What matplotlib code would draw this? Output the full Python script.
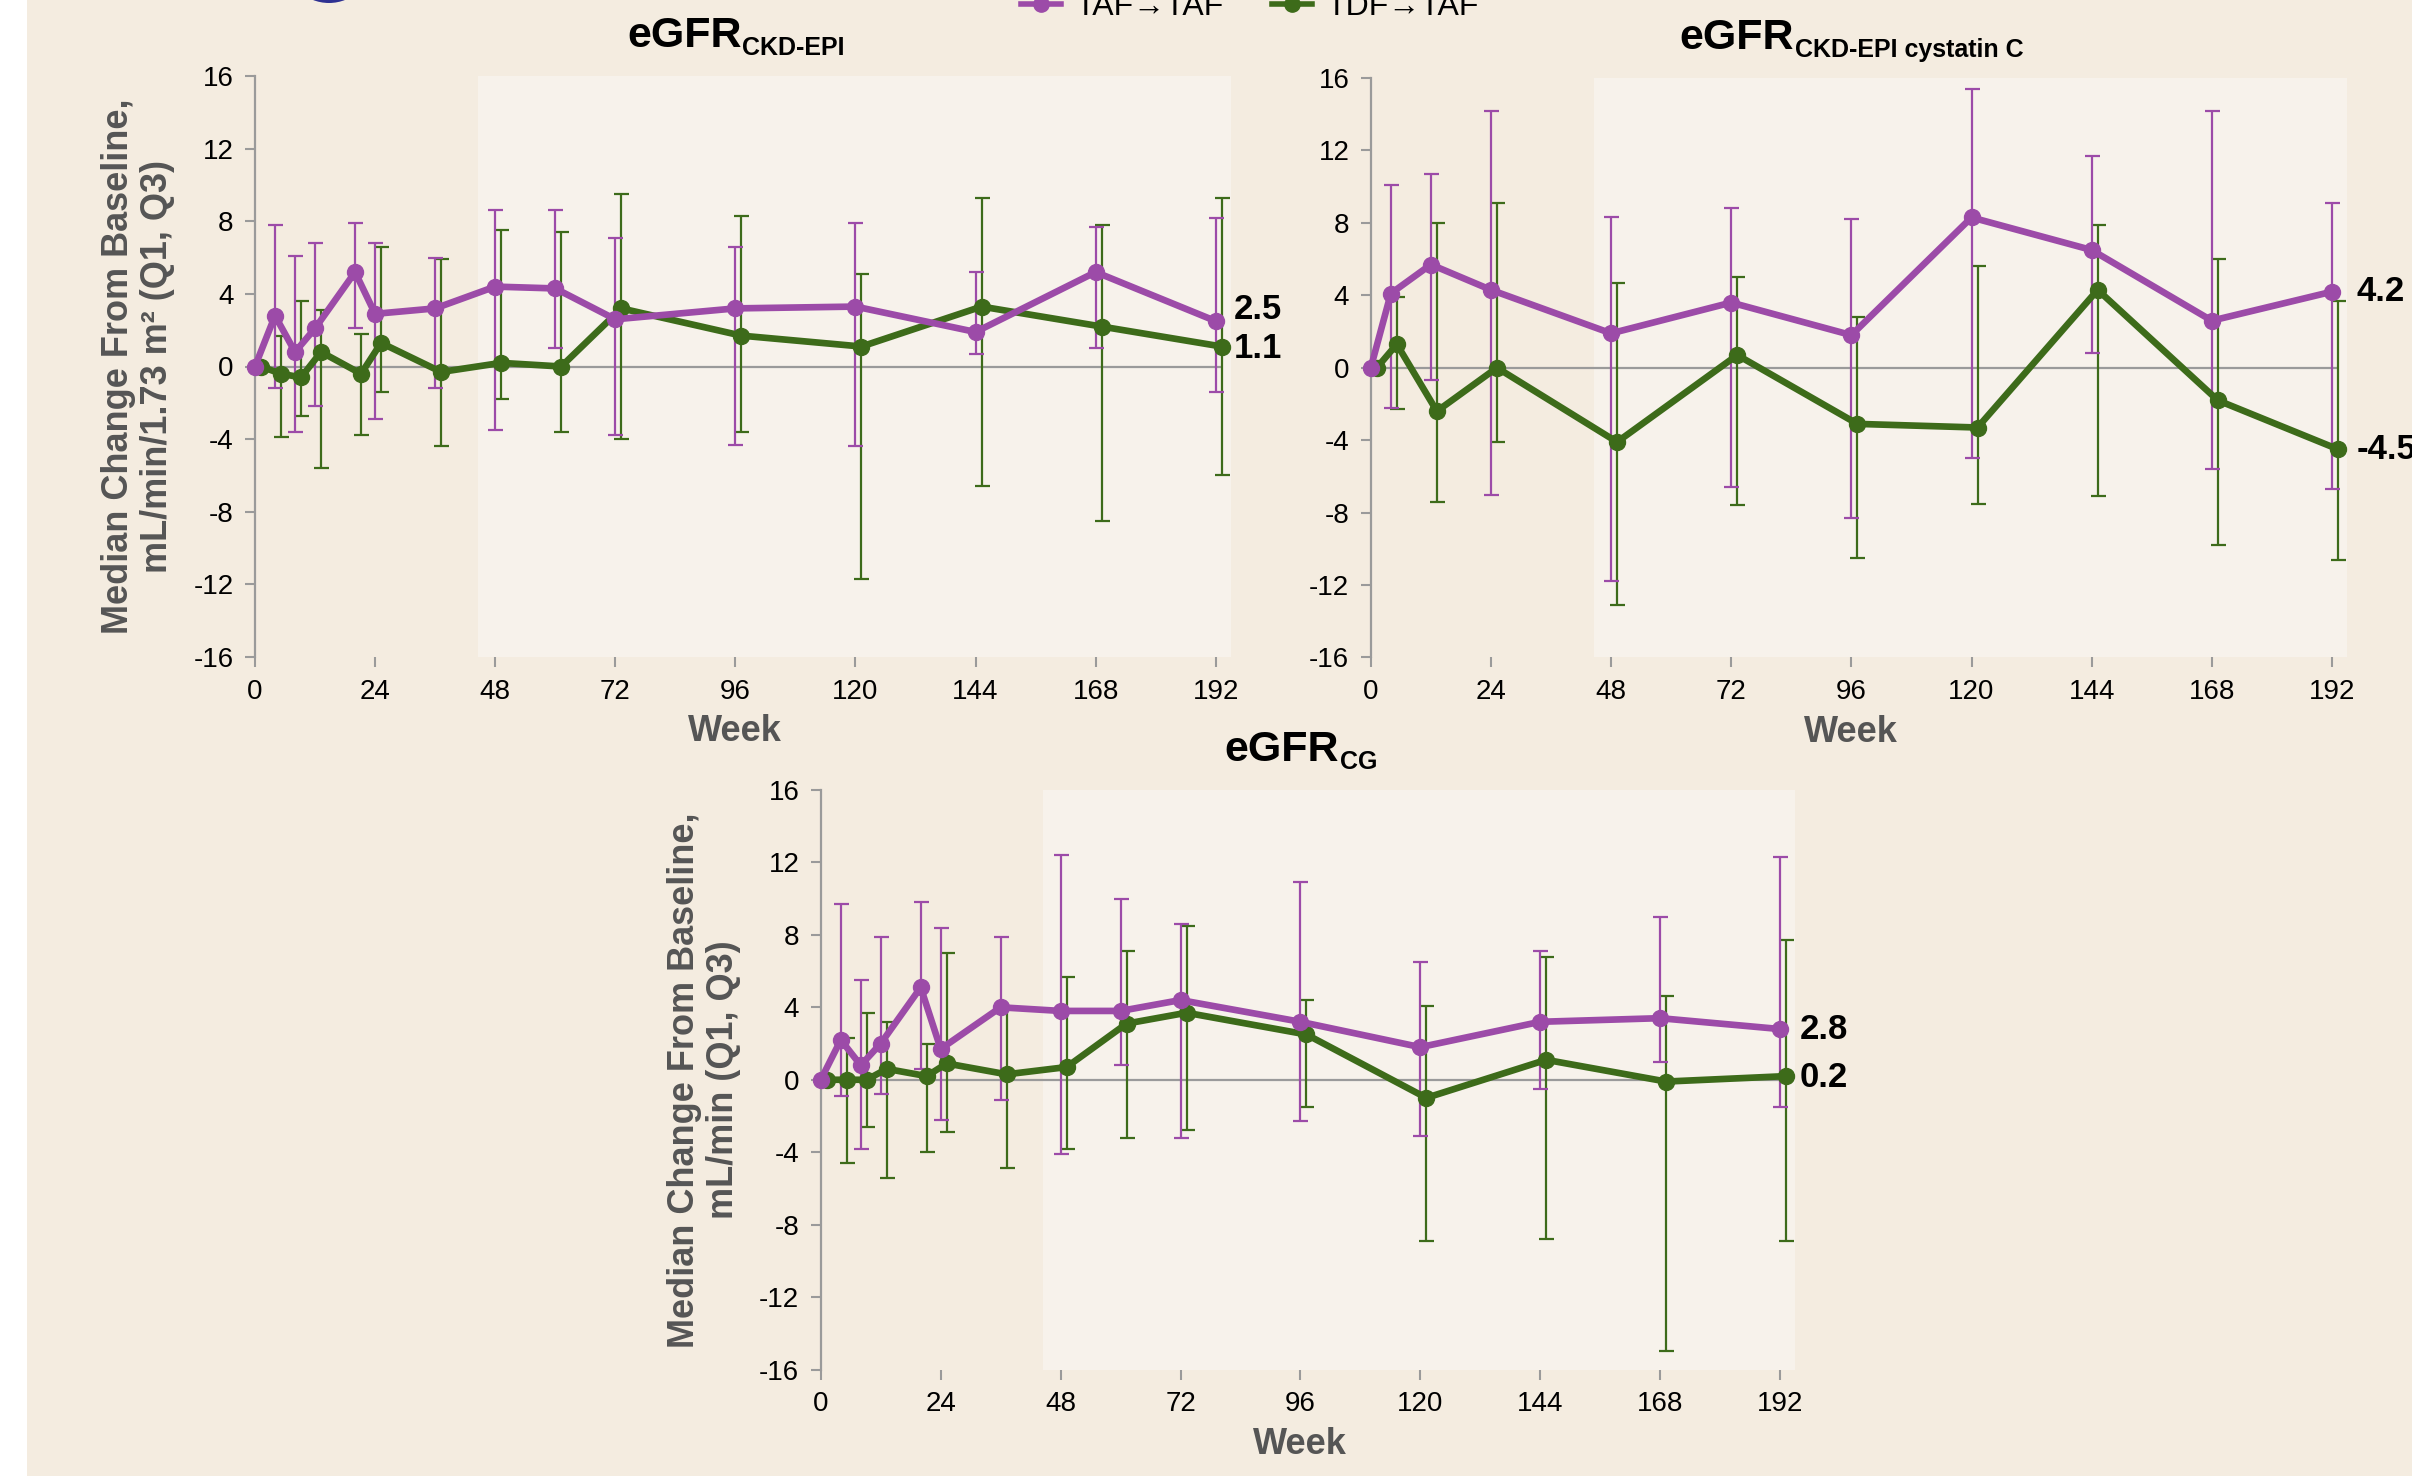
import numpy as np
import matplotlib
matplotlib.use("Agg")
import matplotlib.pyplot as plt
from matplotlib.lines import Line2D
from matplotlib.patches import Rectangle, Circle
import matplotlib.transforms as mtransforms

plt.rcParams['font.family'] = ['Liberation Sans', 'DejaVu Sans']
plt.rcParams['axes.unicode_minus'] = False

nan = np.nan
# ---------------- data ----------------
weeks = [0, 4, 8, 12, 20, 24, 36, 48, 60, 72, 96, 120, 144, 168, 192]
weeks_cys = [0, 4, 12, 24, 48, 72, 96, 120, 144, 168, 192]

ckd_taf_med = [0, 2.8, 0.8, 2.1, 5.2, 2.9, 3.2, 4.4, 4.3, 2.6, 3.2, 3.3, 1.9, 5.2, 2.5]
ckd_taf_q1 = [nan, -1.2, -3.6, -2.2, 2.1, -2.9, -1.2, -3.5, 1.0, -3.8, -4.3, -4.4, 0.7, 1.0, -1.4]
ckd_taf_q3 = [nan, 7.8, 6.1, 6.8, 7.9, 6.8, 6.0, 8.6, 8.6, 7.1, 6.6, 7.9, 5.2, 7.7, 8.2]
ckd_tdf_med = [0, -0.4, -0.6, 0.8, -0.4, 1.3, -0.3, 0.2, 0.0, 3.2, 1.7, 1.1, 3.3, 2.2, 1.1]
ckd_tdf_q1 = [nan, -3.9, -2.7, -5.6, -3.8, -1.4, -4.4, -1.8, -3.6, -4.0, -3.6, -11.7, -6.6, -8.5, -6.0]
ckd_tdf_q3 = [nan, 1.7, 3.6, 3.1, 1.8, 6.6, 5.9, 7.5, 7.4, 9.5, 8.3, 5.1, 9.3, 7.8, 9.3]

cys_taf_med = [0, 4.1, 5.7, 4.3, 1.9, 3.6, 1.8, 8.3, 6.5, 2.6, 4.2]
cys_taf_q1 = [nan, -2.2, -0.7, -7.0, -11.8, -6.6, -8.3, -5.0, 0.8, -5.6, -6.7]
cys_taf_q3 = [nan, 10.1, 10.7, 14.2, 8.3, 8.8, 8.2, 15.4, 11.7, 14.2, 9.1]
cys_tdf_med = [0, 1.3, -2.4, 0.0, -4.1, 0.7, -3.1, -3.3, 4.3, -1.8, -4.5]
cys_tdf_q1 = [nan, -2.3, -7.4, -4.1, -13.1, -7.6, -10.5, -7.5, -7.1, -9.8, -10.6]
cys_tdf_q3 = [nan, 3.9, 8.0, 9.1, 4.7, 5.0, 2.8, 5.6, 7.9, 6.0, 3.7]

cg_taf_med = [0, 2.2, 0.8, 2.0, 5.1, 1.7, 4.0, 3.8, 3.8, 4.4, 3.2, 1.8, 3.2, 3.4, 2.8]
cg_taf_q1 = [nan, -0.9, -3.8, -0.8, 0.6, -2.2, -1.1, -4.1, 0.8, -3.2, -2.3, -3.1, -0.5, 1.0, -1.5]
cg_taf_q3 = [nan, 9.7, 5.5, 7.9, 9.8, 8.4, 7.9, 12.4, 10.0, 8.6, 10.9, 6.5, 7.1, 9.0, 12.3]
cg_tdf_med = [0, 0.0, 0.0, 0.6, 0.2, 0.9, 0.3, 0.7, 3.1, 3.7, 2.5, -1.0, 1.1, -0.1, 0.2]
cg_tdf_q1 = [nan, -4.6, -2.6, -5.4, -4.0, -2.9, -4.9, -3.8, -3.2, -2.8, -1.5, -8.9, -8.8, -15.0, -8.9]
cg_tdf_q3 = [nan, 2.3, 3.7, 3.2, 2.0, 7.0, 3.9, 5.7, 7.1, 8.5, 4.4, 4.1, 6.8, 4.6, 7.7]

series_labels = ["TAF\u2192TAF", "TDF\u2192TAF"]
x_ticks = [0, 24, 48, 72, 96, 120, 144, 168, 192]
y_ticks = [-16, -12, -8, -4, 0, 4, 8, 12, 16]
shade_start = 44.5

# ---------------- style ----------------
W, H = 2412, 1476
BG = "#F4ECE0"
SHADE = "#F7F2EB"
PURPLE = "#9C4BA8"
GREEN = "#3D6B1A"
GREY = "#9A9A9A"
LABEL_GREY = "#555555"

fig = plt.figure(figsize=(W / 100, H / 100), dpi=100, facecolor=BG)
fig.add_artist(Rectangle((0, 0), 27 / W, 1, transform=fig.transFigure,
                         facecolor="white", edgecolor="none", zorder=-10))
fig.add_artist(Circle((3.29, H / 100 + 0.41), 0.44, transform=fig.dpi_scale_trans,
                      facecolor="#2E3192", edgecolor="none"))


def make_ax(left, top, right, bottom):
    return fig.add_axes([left / W, 1 - bottom / H, (right - left) / W, (bottom - top) / H])


panels = [
    dict(rect=(255, 76, 1230.8, 657), weeks=weeks,
         taf=(ckd_taf_med, ckd_taf_q1, ckd_taf_q3), tdf=(ckd_tdf_med, ckd_tdf_q1, ckd_tdf_q3),
         title=("eGFR", "CKD-EPI"),
         ylabel="Median Change From Baseline,\nmL/min/1.73 m\u00b2 (Q1, Q3)",
         lab_dx=18, lab_dy=(12, -2)),
    dict(rect=(1370.8, 78, 2347, 657.5), weeks=weeks_cys,
         taf=(cys_taf_med, cys_taf_q1, cys_taf_q3), tdf=(cys_tdf_med, cys_tdf_q1, cys_tdf_q3),
         title=("eGFR", "CKD-EPI cystatin C"),
         ylabel=None, lab_dx=25, lab_dy=(0, 0)),
    dict(rect=(820.8, 790, 1795, 1369.5), weeks=weeks,
         taf=(cg_taf_med, cg_taf_q1, cg_taf_q3), tdf=(cg_tdf_med, cg_tdf_q1, cg_tdf_q3),
         title=("eGFR", "CG"),
         ylabel="Median Change From Baseline,\nmL/min (Q1, Q3)",
         lab_dx=20, lab_dy=(0, -1)),
]

renderer = fig.canvas.get_renderer()

for p in panels:
    left, top, right, bottom = p["rect"]
    ax = make_ax(left, top, right, bottom)
    ax.set_facecolor("none")
    ax.set_xlim(0, 195)
    ax.set_ylim(-16, 16)
    ax.axvspan(shade_start, 195, facecolor=SHADE, edgecolor="none", zorder=0)
    ax.axhline(0, xmin=0, xmax=193 / 195, color=GREY, lw=1.6, zorder=1)

    for s in ["top", "right", "bottom"]:
        ax.spines[s].set_visible(False)
    ax.spines["left"].set_color(GREY)
    ax.spines["left"].set_linewidth(1.6)
    ax.set_xticks(x_ticks)
    ax.set_yticks(y_ticks)
    ax.tick_params(axis="both", direction="out", length=7.5, width=1.5, color=GREY,
                   labelsize=20, labelcolor="black", pad=8)

    wk = np.array(p["weeks"], dtype=float)
    dodge = mtransforms.offset_copy(ax.transData, fig=fig, x=6, y=0, units="dots")

    for (med, q1, q3), color, trans, z in [(p["tdf"], GREEN, dodge, 3), (p["taf"], PURPLE, ax.transData, 4)]:
        med = np.array(med, dtype=float)
        q1 = np.array(q1, dtype=float)
        q3 = np.array(q3, dtype=float)
        yerr = np.vstack([med - q1, q3 - med])
        ok = ~np.isnan(q1)
        ax.errorbar(wk[ok], med[ok], yerr=yerr[:, ok], fmt="none", ecolor=color,
                    elinewidth=1.6, capsize=5.4, capthick=1.6, transform=trans,
                    zorder=2, clip_on=False)
        ax.plot(wk, med, color=color, lw=4.8, marker="o", ms=11.5, transform=trans,
                zorder=z, clip_on=False, solid_joinstyle="round")

    # end labels
    for (med, _, _), dy in zip([p["taf"], p["tdf"]], p["lab_dy"]):
        ax.annotate(f"{med[-1]:.1f}", xy=(wk[-1], med[-1]), xytext=(p["lab_dx"], dy),
                    textcoords="offset pixels", ha="left", va="center",
                    fontsize=25, fontweight="bold", color="black", annotation_clip=False)

    # title with subscript, centred over the 0-192 span
    cx = left + (right - left) * (96 / 195)
    t1 = fig.text(0, 0, p["title"][0], fontsize=31, fontweight="bold", ha="left", va="baseline")
    t2 = fig.text(0, 0, p["title"][1], fontsize=18, fontweight="bold", ha="left", va="baseline")
    w1 = t1.get_window_extent(renderer).width
    w2 = t2.get_window_extent(renderer).width
    x0 = cx - (w1 + w2) / 2
    t1.set_position((x0 / W, 1 - (top - 29) / H))
    t2.set_position(((x0 + w1 + 1) / W, 1 - (top - 21) / H))

    # x label
    fig.text(cx / W, 1 - (bottom + 84) / H, "Week", fontsize=26, fontweight="bold",
             color=LABEL_GREY, ha="center", va="baseline")
    # y label
    if p["ylabel"]:
        fig.text((left - 117) / W, 1 - ((top + bottom) / 2) / H, p["ylabel"], rotation=90,
                 fontsize=26, fontweight="bold", color=LABEL_GREY, ha="center", va="center",
                 multialignment="center", linespacing=1.15)

handles = [Line2D([], [], color=PURPLE, lw=4, marker="o", ms=11),
           Line2D([], [], color=GREEN, lw=4, marker="o", ms=11)]
fig.legend(handles, series_labels, loc="center", bbox_to_anchor=(1250 / W, 1 - 7 / H),
           ncol=2, frameon=False, fontsize=23, handlelength=1.25, handletextpad=0.45,
           columnspacing=1.5, borderpad=0, borderaxespad=0)

fig.savefig("out.png", dpi=100, facecolor=BG)
